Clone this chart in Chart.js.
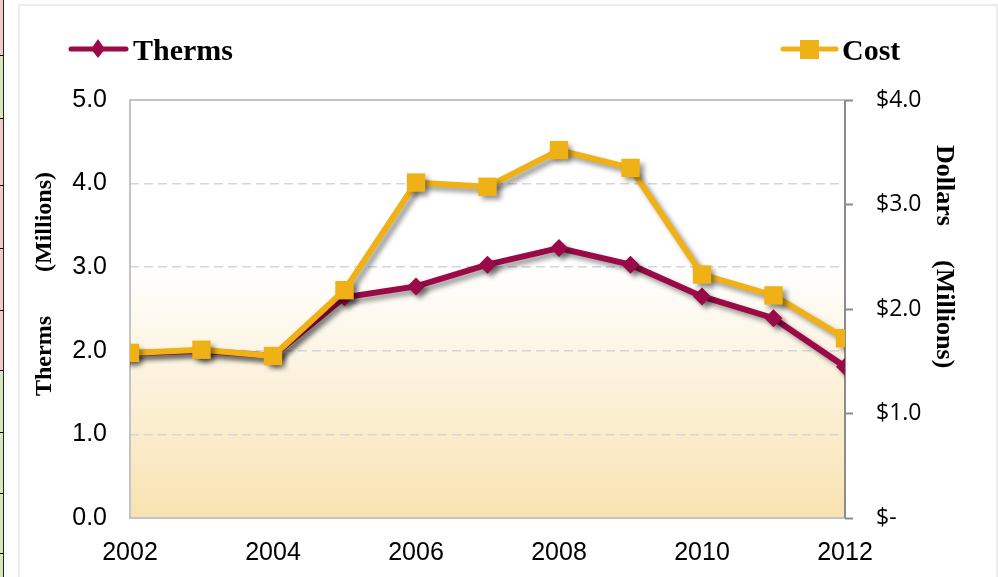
<!DOCTYPE html>
<html>
<head>
<meta charset="utf-8">
<title>Therms and Cost</title>
<script src="https://cdn.jsdelivr.net/npm/chart.js@4.4.0/dist/chart.umd.min.js"></script>
<style>
    html, body { margin: 0; padding: 0; background: #fff; width: 998px; height: 577px; overflow: hidden; }
    #strip {
        position: absolute; left: 0; top: 0; width: 3px; height: 577px; border-right: 1px solid #222;
        background: linear-gradient(to bottom,
            #f3c9c9 0, #f3c9c9 55px, #000 55px, #000 56px, #d9e8bc 56px, #d9e8bc 118px, #000 118px, #000 119px,
            #f3c9c9 119px, #f3c9c9 185px, #000 185px, #000 186px, #f3c9c9 186px, #f3c9c9 248px, #000 248px, #000 249px,
            #f3c9c9 249px, #f3c9c9 310px, #000 310px, #000 311px, #f3c9c9 311px, #f3c9c9 370px, #000 370px, #000 371px,
            #d9e8bc 371px, #d9e8bc 432px, #000 432px, #000 433px, #d9e8bc 433px, #d9e8bc 493px, #000 493px, #000 494px,
            #d9e8bc 494px, #d9e8bc 553px, #000 553px, #000 554px, #d9e8bc 554px);
    }
    #frame { position: absolute; left: 18px; top: 4px; width: 976px; height: 590px; border: 2px solid #ededed; }
    #chart { position: absolute; left: 0; top: 0; }
</style>
</head>
<body>
<div id="strip"></div>
<div id="frame"></div>
<canvas id="chart" width="998" height="577"></canvas>
<script>
// ---- data ----
const years = [2002, 2003, 2004, 2005, 2006, 2007, 2008, 2009, 2010, 2011, 2012];
const therms = [1.97, 2.00, 1.94, 2.64, 2.77, 3.03, 3.23, 3.03, 2.65, 2.39, 1.81]; // millions
const cost = [1.58, 1.61, 1.55, 2.18, 3.21, 3.17, 3.52, 3.35, 2.33, 2.13, 1.72];   // $ millions
const xTicks = [2002, 2004, 2006, 2008, 2010, 2012];

const THERMS_COLOR = "#9a0a47";
const COST_COLOR = "#efb115";
const SERIF = "'Liberation Serif', 'Times New Roman', serif";
const SANS = "'Liberation Sans', Arial, sans-serif";

// background gradient, plot frame, shadows, legend and axis titles
const decor = {
    id: "decor",
    beforeDraw(chart) {
        const { ctx, chartArea: a } = chart;
        const g = ctx.createLinearGradient(0, a.top, 0, a.bottom);
        g.addColorStop(0, "#ffffff");
        g.addColorStop(0.4, "#ffffff");
        g.addColorStop(1, "#f8e2b1");
        ctx.save();
        ctx.fillStyle = g;
        ctx.fillRect(a.left, a.top, a.right - a.left, a.bottom - a.top);
        ctx.restore();
    },
    beforeDatasetsDraw(chart) {
        const { ctx, chartArea: a } = chart;
        ctx.save();
        ctx.lineWidth = 2;
        ctx.strokeStyle = "#c4c4c4";
        ctx.beginPath();
        ctx.moveTo(a.right, a.top);
        ctx.lineTo(a.left, a.top);
        ctx.lineTo(a.left, a.bottom);
        ctx.lineTo(a.right, a.bottom);
        ctx.stroke();
        ctx.strokeStyle = "#8c8c8c";
        ctx.beginPath();
        ctx.moveTo(a.right, a.top);
        ctx.lineTo(a.right, a.bottom);
        ctx.stroke();
        ctx.restore();
    },
    beforeDatasetDraw(chart) {
        const ctx = chart.ctx;
        ctx.save();
        ctx.shadowColor = "rgba(0,0,0,0.4)";
        ctx.shadowBlur = 5;
        ctx.shadowOffsetX = 4;
        ctx.shadowOffsetY = 4;
    },
    afterDatasetDraw(chart) {
        chart.ctx.restore();
    },
    afterDraw(chart) {
        const ctx = chart.ctx;
        ctx.save();

        // legend: Therms (left)
        ctx.lineCap = "round";
        ctx.lineWidth = 5;
        ctx.strokeStyle = THERMS_COLOR;
        ctx.beginPath(); ctx.moveTo(71, 49); ctx.lineTo(126, 49); ctx.stroke();
        ctx.fillStyle = THERMS_COLOR;
        ctx.beginPath();
        ctx.moveTo(98, 39); ctx.lineTo(105, 49); ctx.lineTo(98, 58); ctx.lineTo(91, 49);
        ctx.closePath(); ctx.fill();

        // legend: Cost (right)
        ctx.strokeStyle = COST_COLOR;
        ctx.beginPath(); ctx.moveTo(783, 49); ctx.lineTo(836, 49); ctx.stroke();
        ctx.fillStyle = COST_COLOR;
        ctx.fillRect(800, 40, 19, 19);

        ctx.fillStyle = "#000";
        ctx.font = "bold 30px " + SERIF;
        ctx.textBaseline = "alphabetic";
        ctx.textAlign = "left";
        ctx.fillText("Therms", 133, 60);
        ctx.fillText("Cost", 842, 60);

        // axis titles
        ctx.textBaseline = "middle";
        ctx.font = "bold 24px " + SERIF;
        ctx.save();
        ctx.translate(45, 396);
        ctx.rotate(-Math.PI / 2);
        ctx.fillText("Therms", 0, 0);
        ctx.fillText("(Millions)", 124, 0);
        ctx.restore();

        ctx.font = "bold 26px " + SERIF;
        ctx.save();
        ctx.translate(944, 145);
        ctx.rotate(Math.PI / 2);
        ctx.fillText("Dollars", 0, 0);
        ctx.fillText("(Millions)", 115, 0);
        ctx.restore();

        ctx.restore();
    }
};

const toPoints = arr => arr.map((v, i) => ({ x: years[i], y: v }));

new Chart(document.getElementById("chart").getContext("2d"), {
    type: "line",
    data: {
        datasets: [
            {
                label: "Cost",
                data: toPoints(cost),
                yAxisID: "y1",
                order: 0,
                borderColor: COST_COLOR,
                backgroundColor: COST_COLOR,
                borderWidth: 6,
                pointStyle: "rect",
                pointRadius: 13,
                pointBorderWidth: 0,
                tension: 0
            },
            {
                label: "Therms",
                data: toPoints(therms),
                yAxisID: "y",
                order: 1,
                borderColor: THERMS_COLOR,
                backgroundColor: THERMS_COLOR,
                borderWidth: 6,
                pointStyle: "rectRot",
                pointRadius: 9,
                pointBorderWidth: 0,
                tension: 0
            }
        ]
    },
    options: {
        responsive: false,
        animation: false,
        layout: { padding: { top: 100, left: 0, right: 0, bottom: 0 } },
        plugins: { legend: { display: false }, tooltip: { enabled: false } },
        scales: {
            x: {
                type: "linear",
                min: 2002,
                max: 2012,
                afterBuildTicks: scale => { scale.ticks = xTicks.map(v => ({ value: v })); },
                afterFit: scale => { scale.height = 59; },
                grid: { display: false, drawTicks: false },
                border: { display: false },
                ticks: {
                    padding: 20,
                    color: "#000",
                    font: { family: SANS, size: 25 },
                    maxRotation: 0,
                    callback: v => String(v)
                }
            },
            y: {
                position: "left",
                min: 0,
                max: 5,
                afterFit: scale => { scale.width = 130; },
                grid: {
                    drawTicks: false,
                    color: ctx => (ctx.tick.value > 0 && ctx.tick.value < 5) ? "#d6d6d6" : "rgba(0,0,0,0)",
                    lineWidth: 1.5
                },
                border: { display: false, dash: [9, 5] },
                ticks: {
                    stepSize: 1,
                    padding: 23,
                    color: "#000",
                    font: { family: SANS, size: 25 },
                    callback: v => v.toFixed(1)
                }
            },
            y1: {
                position: "right",
                min: 0,
                max: 4,
                afterFit: scale => { scale.width = 153; },
                grid: {
                    drawOnChartArea: false,
                    drawTicks: true,
                    tickLength: 8,
                    tickColor: "#8c8c8c",
                    tickWidth: 2
                },
                border: { display: false },
                ticks: {
                    stepSize: 1,
                    padding: 23,
                    color: "#000",
                    font: { family: "'Open Sans', sans-serif", size: 23 },
                    callback: v => v === 0 ? "$-" : "$" + v.toFixed(1)
                }
            }
        }
    },
    plugins: [decor]
});
</script>
</body>
</html>
